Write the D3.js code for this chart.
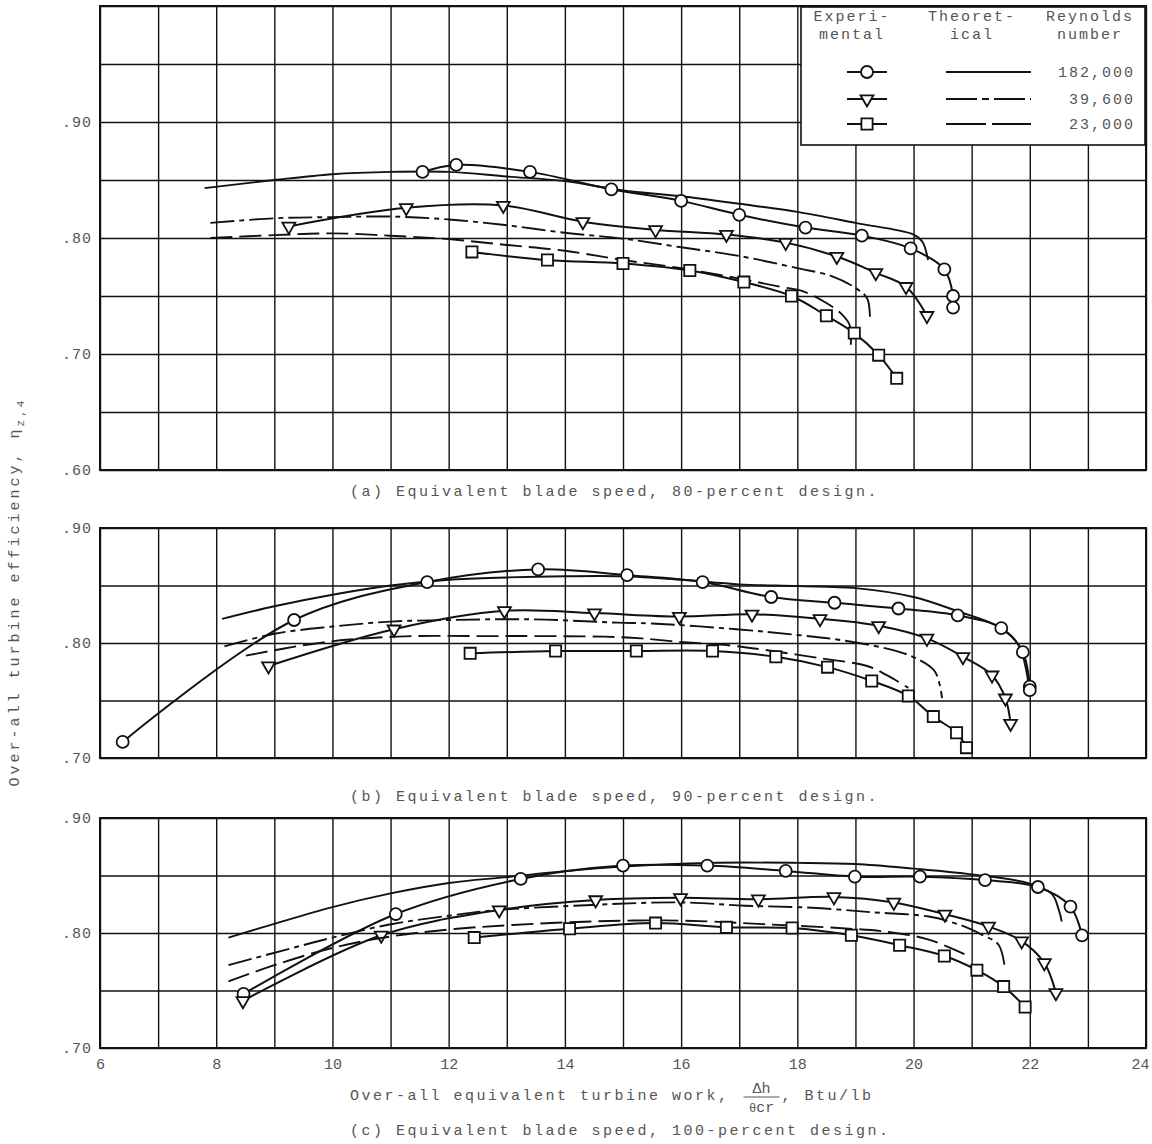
<!DOCTYPE html>
<html><head><meta charset="utf-8">
<script src="https://cdn.jsdelivr.net/npm/d3@7"></script>
<style>
body{margin:0;background:#fff;}
text{font-family:"Liberation Mono","DejaVu Sans Mono",monospace;fill:#555;font-size:15px;letter-spacing:2.5px;}
</style></head><body>
<svg id="chart" width="1152" height="1144"></svg>
<script>
// ---- axis ticks ----
const xTickValues = [6, 8, 10, 12, 14, 16, 18, 20, 22, 24];
const xTickLabels = ["6", "8", "10", "12", "14", "16", "18", "20", "22", "24"];
const yTicksA = [0.60, 0.70, 0.80, 0.90];
const yTickLabelsA = [".60", ".70", ".80", ".90"];
const yTicksBC = [0.70, 0.80, 0.90];
const yTickLabelsBC = [".70", ".80", ".90"];

// ---- legend ----
const reynolds = ["182,000", "39,600", "23,000"];

// ---- (a) 80-percent design blade speed ----
const expA182 = [[11.55,.857],[12.13,.863],[13.4,.857],[14.8,.842],[16.0,.832],[17.0,.820],[18.14,.809],[19.11,.802],[19.95,.791],[20.53,.773],[20.68,.750],[20.68,.740]];
const theoA182 = [[7.8,.843],[9,.850],[10,.855],[11,.857],[12,.857],[13,.853],[14,.849],[15,.841],[16,.836],[17,.8295],[18,.8225],[19,.813],[20,.803],[20.15,.797],[20.25,.781]];
const expA396 = [[9.25,.810],[11.27,.826],[12.94,.828],[14.31,.814],[15.56,.807],[16.78,.803],[17.8,.796],[18.68,.784],[19.35,.770],[19.87,.758],[20.23,.733]];
const theoA396 = [[7.9,.813],[9,.817],[10,.818],[11,.8185],[12,.816],[13,.811],[14,.8045],[15,.7995],[16,.792],[17,.7845],[18,.774],[18.6,.767],[19,.757],[19.2,.748],[19.25,.731]];
const expA23 = [[12.4,.788],[13.7,.781],[15.0,.778],[16.15,.772],[17.08,.762],[17.9,.750],[18.5,.733],[18.98,.718],[19.4,.699],[19.71,.679]];
const theoA23 = [[7.9,.800],[9,.8025],[10,.804],[11,.802],[12,.799],[13,.794],[14,.789],[15,.781],[16,.774],[17,.765],[17.7,.758],[18.1,.754],[18.5,.744],[18.75,.735],[18.9,.725],[18.92,.708]];

// ---- (b) 90-percent design blade speed ----
const expB182 = [[6.39,.714],[9.34,.820],[11.63,.853],[13.54,.864],[15.07,.859],[16.37,.853],[17.55,.840],[18.64,.835],[19.74,.830],[20.76,.824],[21.51,.813],[21.88,.792],[22.0,.762],[22.0,.759]];
const theoB182 = [[8.1,.821],[9,.832],[10,.842],[11,.850],[12,.855],[13,.857],[14,.858],[15,.858],[16,.855],[17,.851],[18,.8495],[19,.8477],[20,.840],[20.76,.8276],[21.47,.814],[21.81,.798],[21.98,.764]];
const expB396 = [[8.9,.780],[11.06,.812],[12.96,.828],[14.51,.826],[15.97,.823],[17.22,.825],[18.39,.821],[19.4,.815],[20.23,.804],[20.85,.788],[21.35,.772],[21.58,.752],[21.67,.730]];
const theoB396 = [[8.14,.797],[9,.808],[10,.8143],[11,.8186],[12,.820],[13.43,.8206],[14.91,.8177],[15.49,.817],[16.95,.812],[18,.807],[18.82,.802],[19.63,.794],[20.03,.787],[20.37,.775],[20.49,.752]];
const expB23 = [[12.37,.791],[13.84,.793],[15.23,.793],[16.54,.793],[17.63,.788],[18.52,.779],[19.28,.767],[19.91,.754],[20.34,.736],[20.74,.722],[20.91,.709]];
const theoB23 = [[8.51,.789],[9.49,.798],[10.29,.803],[11.4,.806],[12.5,.806],[13.5,.806],[14.68,.8055],[15.32,.804],[16.06,.8006],[16.81,.798],[17.44,.794],[18.36,.787],[19.2,.780],[19.54,.772],[19.91,.761]];

// ---- (c) 100-percent design blade speed ----
const expC182 = [[8.47,.747],[11.09,.8165],[13.24,.847],[15.0,.8586],[16.45,.8586],[17.8,.854],[18.99,.849],[20.11,.849],[21.23,.846],[22.14,.840],[22.7,.823],[22.9,.798]];
const theoC182 = [[8.21,.796],[9,.808],[10,.8225],[11,.8344],[12,.8435],[13,.8486],[14,.8537],[15,.8577],[16.48,.861],[18,.861],[19,.860],[20,.856],[21,.851],[22,.843],[22.38,.834],[22.5,.820],[22.55,.810]];
const expC396 = [[8.46,.741],[10.84,.798],[12.87,.820],[14.53,.8287],[15.99,.8306],[17.33,.8294],[18.63,.8314],[19.66,.8266],[20.54,.8163],[21.29,.8057],[21.86,.793],[22.25,.774],[22.45,.748]];
const theoC396 = [[8.21,.772],[9.24,.786],[10,.796],[10.98,.8074],[12,.815],[12.75,.8196],[14.47,.8244],[15.96,.8266],[17.11,.8237],[18.25,.822],[19.3,.818],[20.26,.8143],[20.8,.807],[21.17,.7986],[21.46,.790],[21.57,.770]];
const expC23 = [[12.44,.796],[14.08,.8037],[15.56,.8086],[16.78,.8049],[17.91,.8043],[18.93,.798],[19.76,.7894],[20.53,.780],[21.09,.7677],[21.55,.7534],[21.92,.7357]];
const theoC23 = [[8.21,.758],[9,.772],[10,.787],[11,.797],[12,.803],[13.1,.807],[14.47,.810],[15.5,.811],[16.5,.810],[17.4,.8077],[18.71,.8043],[19.57,.8009],[20.26,.7943],[20.95,.780]];

// ---- layout ----
const svg = d3.select("#chart");
const x = d3.scaleLinear().domain([6, 24]).range([100, 1146]);
const INK = "#111";
const dashStyles = { r182: null, r396: "24,5,5,5", r23: "22,7" };
const markers = {
  r182: d3.symbol(d3.symbolCircle, 113),
  r396: d3.symbol(d3.symbolTriangle, 72),
  r23: d3.symbol(d3.symbolSquare, 125)
};
const markerRotate = { r182: 0, r396: 180, r23: 0 };

const panels = [
  { domain: [0.60, 1.00], range: [470, 6], ticks: yTicksA, labels: yTickLabelsA,
    caption: "(a) Equivalent blade speed, 80-percent design.", capY: 496, legend: true,
    series: [["r182", expA182, theoA182], ["r396", expA396, theoA396], ["r23", expA23, theoA23]] },
  { domain: [0.70, 0.90], range: [758, 528], ticks: yTicksBC, labels: yTickLabelsBC,
    caption: "(b) Equivalent blade speed, 90-percent design.", capY: 801,
    series: [["r182", expB182, theoB182], ["r396", expB396, theoB396], ["r23", expB23, theoB23]] },
  { domain: [0.70, 0.90], range: [1048, 818], ticks: yTicksBC, labels: yTickLabelsBC,
    caption: "(c) Equivalent blade speed, 100-percent design.", capY: 1135, xLabels: true,
    series: [["r182", expC182, theoC182], ["r396", expC396, theoC396], ["r23", expC23, theoC23]] }
];

panels.forEach(p => {
  const y = d3.scaleLinear().domain(p.domain).range(p.range);
  const top = p.range[1], bottom = p.range[0];
  const g = svg.append("g");

  // grid: one line per unit of work and per 0.05 of efficiency
  const xGrid = d3.axisBottom(x).tickValues(d3.range(6, 24.01, 1)).tickSize(-(bottom - top)).tickFormat("");
  g.append("g").attr("transform", `translate(0,${bottom})`).call(xGrid)
    .call(s => s.select(".domain").remove())
    .selectAll("line").attr("stroke", INK).attr("stroke-width", 1.4);
  const yVals = d3.range(Math.round(p.domain[0] * 100), Math.round(p.domain[1] * 100) + 1, 5).map(v => v / 100);
  const yGrid = d3.axisLeft(y).tickValues(yVals).tickSize(-(1146 - 100)).tickFormat("");
  g.append("g").attr("transform", `translate(100,0)`).call(yGrid)
    .call(s => s.select(".domain").remove())
    .selectAll("line").attr("stroke", INK).attr("stroke-width", 1.4);

  g.append("rect").attr("x", 100).attr("y", top).attr("width", 1046).attr("height", bottom - top)
    .attr("fill", "none").attr("stroke", INK).attr("stroke-width", 2);

  // efficiency labels
  const yLab = d3.axisLeft(y).tickValues(p.ticks).tickSize(0).tickPadding(8)
    .tickFormat((d, i) => p.labels[i]);
  g.append("g").attr("transform", "translate(100,0)").call(yLab)
    .call(s => s.select(".domain").remove())
    .selectAll("text").attr("font-family", null).attr("font-size", null)
    .style("letter-spacing", "1px").attr("fill", "#555");

  if (p.xLabels) {
    const xLab = d3.axisBottom(x).tickValues(xTickValues).tickSize(0).tickPadding(10)
      .tickFormat((d, i) => xTickLabels[i]);
    g.append("g").attr("transform", `translate(0,${bottom})`).call(xLab)
      .call(s => s.select(".domain").remove())
      .selectAll("text").attr("font-family", null).attr("font-size", null)
      .style("letter-spacing", "0px").attr("fill", "#555")
      .attr("dx", (d, i) => i === xTickValues.length - 1 ? -6 : 0);
  }

  if (p.legend) drawLegend(g);

  const line = d3.line().x(d => x(d[0])).y(d => y(d[1])).curve(d3.curveCatmullRom.alpha(0.5));
  p.series.forEach(([key, exp, theo]) => {
    g.append("path").attr("d", line(theo)).attr("fill", "none").attr("stroke", INK)
      .attr("stroke-width", 1.9).attr("stroke-dasharray", dashStyles[key]);
    g.append("path").attr("d", line(exp)).attr("fill", "none").attr("stroke", INK).attr("stroke-width", 2);
    g.selectAll(null).data(exp).join("path")
      .attr("d", markers[key])
      .attr("transform", d => `translate(${x(d[0])},${y(d[1])}) rotate(${markerRotate[key]})`)
      .attr("fill", "#fff").attr("stroke", INK).attr("stroke-width", 1.8);
  });

  svg.append("text").attr("x", 350).attr("y", p.capY).text(p.caption);
});

function drawLegend(g) {
  const lg = g.append("g");
  lg.append("rect").attr("x", 801).attr("y", 7).attr("width", 344).attr("height", 138)
    .attr("fill", "#fff").attr("stroke", INK).attr("stroke-width", 1.6);
  const heads = [["Experi-", "mental", 852], ["Theoret-", "ical", 972], ["Reynolds", "number", 1090]];
  heads.forEach(([a, b, cx]) => {
    lg.append("text").attr("x", cx).attr("y", 21).attr("text-anchor", "middle").style("letter-spacing", "2px").text(a);
    lg.append("text").attr("x", cx).attr("y", 39).attr("text-anchor", "middle").style("letter-spacing", "2px").text(b);
  });
  const keys = ["r182", "r396", "r23"];
  const rowY = [72, 99, 124];
  keys.forEach((k, i) => {
    const yy = rowY[i];
    lg.append("line").attr("x1", 847).attr("x2", 887).attr("y1", yy).attr("y2", yy)
      .attr("stroke", INK).attr("stroke-width", 2);
    lg.append("path").attr("d", markers[k]).attr("transform", `translate(867,${yy}) rotate(${markerRotate[k]})`)
      .attr("fill", "#fff").attr("stroke", INK).attr("stroke-width", 1.8);
    lg.append("line").attr("x1", 946).attr("x2", 1031).attr("y1", yy).attr("y2", yy)
      .attr("stroke", INK).attr("stroke-width", 1.9).attr("stroke-dasharray", i === 1 ? "31,5,7,5" : (i === 2 ? "40,6" : null));
    lg.append("text").attr("x", 1135).attr("y", yy + 5).attr("text-anchor", "end").style("letter-spacing", "2px").text(reynolds[i]);
  });
}

// y-axis title
const yt = svg.append("text").attr("transform", "translate(19,592) rotate(-90)").attr("text-anchor", "middle")
  .style("letter-spacing", "3px");
yt.append("tspan").text("Over-all turbine efficiency, η");
yt.append("tspan").attr("font-size", "11px").attr("dy", 5).text("z,4");

// x-axis title with the Δh/θcr fraction
const xt = svg.append("g");
const t1 = xt.append("text").attr("x", 350).attr("y", 1100).text("Over-all equivalent turbine work,");
const w1 = t1.node().getComputedTextLength();
const fx = 350 + w1 + 14;
xt.append("text").attr("x", fx + 18).attr("y", 1093).attr("text-anchor", "middle").style("letter-spacing", "0px").text("Δh");
xt.append("line").attr("x1", fx).attr("x2", fx + 36).attr("y1", 1097).attr("y2", 1097).attr("stroke", "#555").attr("stroke-width", 1);
const den = xt.append("text").attr("x", fx + 18).attr("y", 1112).attr("text-anchor", "middle").style("letter-spacing", "0px");
den.append("tspan").attr("font-size", "12px").text("θ");
den.append("tspan").text("cr");
xt.append("text").attr("x", fx + 38).attr("y", 1100).text(", Btu/lb");
</script>
</body></html>
